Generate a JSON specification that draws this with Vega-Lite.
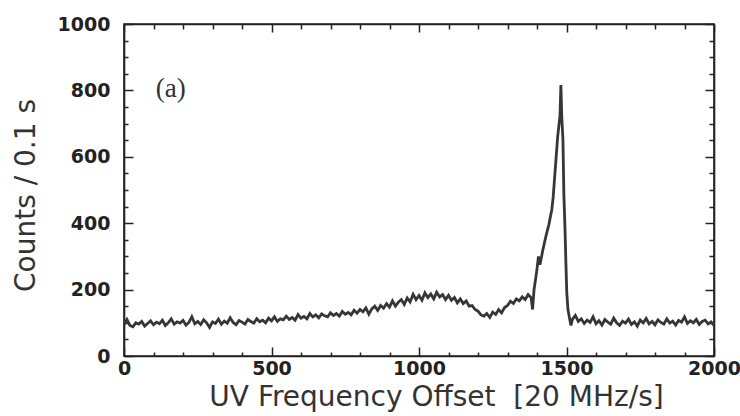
{
  "$schema": "https://vega.github.io/schema/vega-lite/v6.json",
  "width": 590,
  "height": 332,
  "autosize": {"type": "none"},
  "padding": {"left": 124, "top": 24, "right": 26, "bottom": 60},
  "background": "white",
  "config": {
    "view": {"stroke": "#222", "strokeWidth": 1.6},
    "axis": {
      "domainColor": "#222", "domainWidth": 1.6,
      "tickColor": "#222", "tickWidth": 1.5,
      "grid": false,
      "labelFont": "DejaVu Sans", "labelFontWeight": "bold", "labelFontSize": 19, "labelColor": "#222",
      "titleFont": "DejaVu Sans", "titleFontWeight": "normal", "titleFontSize": 28, "titleColor": "#333",
      "labelFlush": false, "labelOverlap": false
    }
  },
  "data": {"values": [
    {"f":0,"c":95},{"f":10,"c":110},{"f":20,"c":92},{"f":30,"c":88},{"f":40,"c":100},{"f":50,"c":96},{"f":60,"c":104},{"f":70,"c":90},{"f":80,"c":98},{"f":90,"c":106},
    {"f":100,"c":94},{"f":110,"c":102},{"f":120,"c":97},{"f":130,"c":108},{"f":140,"c":92},{"f":150,"c":100},{"f":160,"c":112},{"f":170,"c":96},{"f":180,"c":103},{"f":190,"c":99},
    {"f":200,"c":107},{"f":210,"c":93},{"f":220,"c":101},{"f":230,"c":118},{"f":240,"c":97},{"f":250,"c":104},{"f":260,"c":95},{"f":270,"c":109},{"f":280,"c":100},{"f":290,"c":86},
    {"f":300,"c":103},{"f":310,"c":98},{"f":320,"c":111},{"f":330,"c":96},{"f":340,"c":105},{"f":350,"c":99},{"f":360,"c":115},{"f":370,"c":101},{"f":380,"c":94},{"f":390,"c":107},
    {"f":400,"c":102},{"f":410,"c":96},{"f":420,"c":110},{"f":430,"c":104},{"f":440,"c":99},{"f":450,"c":112},{"f":460,"c":103},{"f":470,"c":108},{"f":480,"c":100},{"f":490,"c":114},
    {"f":500,"c":106},{"f":510,"c":118},{"f":520,"c":104},{"f":530,"c":112},{"f":540,"c":109},{"f":550,"c":120},{"f":560,"c":110},{"f":570,"c":116},{"f":580,"c":108},{"f":590,"c":125},
    {"f":600,"c":114},{"f":610,"c":119},{"f":620,"c":112},{"f":630,"c":128},{"f":640,"c":118},{"f":650,"c":124},{"f":660,"c":115},{"f":670,"c":127},{"f":680,"c":121},{"f":690,"c":118},
    {"f":700,"c":130},{"f":710,"c":122},{"f":720,"c":128},{"f":730,"c":120},{"f":740,"c":134},{"f":750,"c":126},{"f":760,"c":131},{"f":770,"c":124},{"f":780,"c":138},{"f":790,"c":129},
    {"f":800,"c":140},{"f":810,"c":133},{"f":820,"c":145},{"f":830,"c":126},{"f":840,"c":142},{"f":850,"c":150},{"f":860,"c":137},{"f":870,"c":152},{"f":880,"c":144},{"f":890,"c":158},
    {"f":900,"c":147},{"f":910,"c":166},{"f":920,"c":150},{"f":930,"c":162},{"f":940,"c":170},{"f":950,"c":155},{"f":960,"c":175},{"f":970,"c":163},{"f":980,"c":186},{"f":990,"c":170},
    {"f":1000,"c":182},{"f":1010,"c":168},{"f":1020,"c":190},{"f":1030,"c":176},{"f":1040,"c":187},{"f":1050,"c":172},{"f":1060,"c":192},{"f":1070,"c":178},{"f":1080,"c":185},{"f":1090,"c":170},
    {"f":1100,"c":183},{"f":1110,"c":168},{"f":1120,"c":176},{"f":1130,"c":160},{"f":1140,"c":172},{"f":1150,"c":158},{"f":1160,"c":166},{"f":1170,"c":150},{"f":1180,"c":152},{"f":1190,"c":140},
    {"f":1200,"c":135},{"f":1210,"c":124},{"f":1220,"c":120},{"f":1230,"c":128},{"f":1240,"c":116},{"f":1250,"c":132},{"f":1260,"c":125},{"f":1270,"c":140},{"f":1280,"c":130},{"f":1290,"c":146},
    {"f":1300,"c":152},{"f":1310,"c":165},{"f":1320,"c":158},{"f":1330,"c":172},{"f":1340,"c":166},{"f":1350,"c":178},{"f":1360,"c":170},{"f":1370,"c":185},{"f":1380,"c":176},{"f":1385,"c":140},
    {"f":1390,"c":200},{"f":1395,"c":230},{"f":1400,"c":262},{"f":1405,"c":300},{"f":1410,"c":275},{"f":1420,"c":320},{"f":1430,"c":360},{"f":1440,"c":395},{"f":1450,"c":440},{"f":1455,"c":480},
    {"f":1460,"c":540},{"f":1465,"c":600},{"f":1470,"c":660},{"f":1475,"c":700},{"f":1478,"c":725},{"f":1481,"c":816},{"f":1484,"c":720},{"f":1488,"c":650},{"f":1491,"c":490},{"f":1495,"c":380},
    {"f":1498,"c":280},{"f":1501,"c":190},{"f":1505,"c":140},{"f":1510,"c":115},{"f":1515,"c":92},{"f":1520,"c":110},{"f":1530,"c":122},{"f":1540,"c":104},{"f":1550,"c":112},{"f":1560,"c":98},
    {"f":1570,"c":108},{"f":1580,"c":101},{"f":1590,"c":118},{"f":1600,"c":97},{"f":1610,"c":106},{"f":1620,"c":93},{"f":1630,"c":110},{"f":1640,"c":102},{"f":1650,"c":96},{"f":1660,"c":114},
    {"f":1670,"c":100},{"f":1680,"c":92},{"f":1690,"c":105},{"f":1700,"c":99},{"f":1710,"c":111},{"f":1720,"c":95},{"f":1730,"c":103},{"f":1740,"c":90},{"f":1750,"c":108},{"f":1760,"c":100},
    {"f":1770,"c":113},{"f":1780,"c":97},{"f":1790,"c":104},{"f":1800,"c":94},{"f":1810,"c":109},{"f":1820,"c":101},{"f":1830,"c":96},{"f":1840,"c":112},{"f":1850,"c":99},{"f":1860,"c":105},
    {"f":1870,"c":93},{"f":1880,"c":107},{"f":1890,"c":102},{"f":1900,"c":118},{"f":1910,"c":98},{"f":1920,"c":106},{"f":1930,"c":100},{"f":1940,"c":110},{"f":1950,"c":95},{"f":1960,"c":104},
    {"f":1970,"c":108},{"f":1980,"c":97},{"f":1990,"c":103},{"f":2000,"c":92}
  ]},
  "layer": [
    {
      "mark": {"type": "line", "color": "#363636", "strokeWidth": 2.8},
      "encoding": {
        "x": {"field": "f", "type": "quantitative", "scale": {"domain": [0, 2000], "nice": false},
          "axis": {"orient": "bottom", "format": "d",
            "values": [0,100,200,300,400,500,600,700,800,900,1000,1100,1200,1300,1400,1500,1600,1700,1800,1900,2000],
            "labelExpr": "datum.value % 500 === 0 ? datum.label : ''",
            "tickSize": {"condition": {"test": "datum.value % 500 === 0", "value": -9}, "value": -4},
            "labelPadding": 12,
            "title": "UV Frequency Offset \u00a0[20 MHz/s]",
            "titleX": 312, "titleY": 49, "titleAlign": "center", "titleBaseline": "alphabetic"}},
        "y": {"field": "c", "type": "quantitative", "scale": {"domain": [0, 1000], "nice": false},
          "axis": {"orient": "left", "format": "d",
            "values": [0,50,100,150,200,250,300,350,400,450,500,550,600,650,700,750,800,850,900,950,1000],
            "labelExpr": "datum.value % 200 === 0 ? datum.label : ''",
            "tickSize": {"condition": {"test": "datum.value % 200 === 0", "value": -9}, "value": -4},
            "labelPadding": 23,
            "title": "Counts / 0.1 s",
            "titleX": -90, "titleY": 171, "titleAlign": "center", "titleBaseline": "alphabetic"}}
      }
    },
    {
      "mark": {"type": "line", "opacity": 0},
      "encoding": {
        "x": {"field": "f", "type": "quantitative",
          "axis": {"orient": "top", "labels": false, "title": null,
            "values": [0,100,200,300,400,500,600,700,800,900,1000,1100,1200,1300,1400,1500,1600,1700,1800,1900,2000],
            "tickSize": {"condition": {"test": "datum.value % 500 === 0", "value": -8}, "value": -5}}},
        "y": {"field": "c", "type": "quantitative",
          "axis": {"orient": "right", "labels": false, "title": null,
            "values": [0,50,100,150,200,250,300,350,400,450,500,550,600,650,700,750,800,850,900,950,1000],
            "tickSize": {"condition": {"test": "datum.value % 200 === 0", "value": -9}, "value": -5}}}
      }
    },
    {
      "data": {"values": [{"f": 108, "c": 805, "label": "(a)"}]},
      "mark": {"type": "text", "font": "Liberation Serif", "fontSize": 27, "color": "#333", "align": "left", "baseline": "middle"},
      "encoding": {
        "x": {"field": "f", "type": "quantitative", "axis": null},
        "y": {"field": "c", "type": "quantitative", "axis": null},
        "text": {"field": "label"}
      }
    }
  ],
  "resolve": {"axis": {"x": "independent", "y": "independent"}}
}
